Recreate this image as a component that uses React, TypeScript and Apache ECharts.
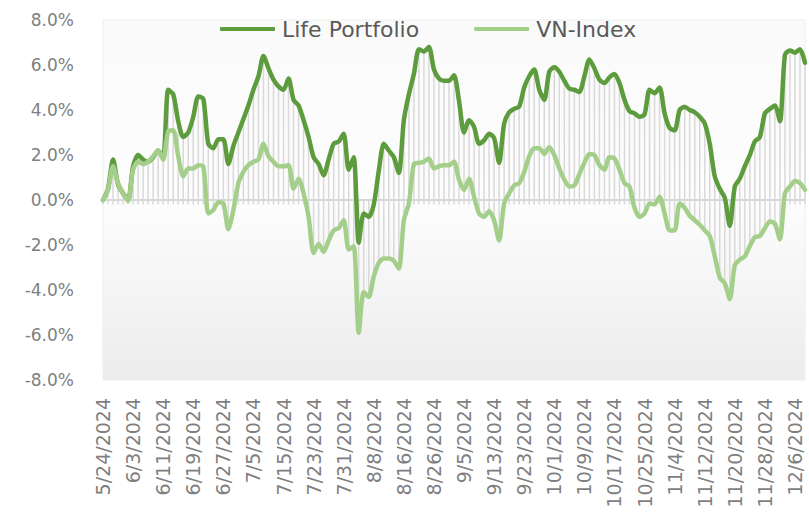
import React, { useEffect, useRef } from "react";
import * as echarts from "echarts";

const dates = [
  "5/24/2024","5/27/2024","5/28/2024","5/29/2024","5/30/2024","5/31/2024",
  "6/3/2024","6/4/2024","6/5/2024","6/6/2024","6/7/2024","6/10/2024","6/11/2024","6/12/2024","6/13/2024","6/14/2024","6/17/2024","6/18/2024","6/19/2024","6/20/2024","6/21/2024","6/24/2024","6/25/2024","6/26/2024","6/27/2024","6/28/2024",
  "7/1/2024","7/2/2024","7/3/2024","7/4/2024","7/5/2024","7/8/2024","7/9/2024","7/10/2024","7/11/2024","7/12/2024","7/15/2024","7/16/2024","7/17/2024","7/18/2024","7/19/2024","7/22/2024","7/23/2024","7/24/2024","7/25/2024","7/26/2024","7/29/2024","7/30/2024","7/31/2024",
  "8/1/2024","8/2/2024","8/5/2024","8/6/2024","8/7/2024","8/8/2024","8/9/2024","8/12/2024","8/13/2024","8/14/2024","8/15/2024","8/16/2024","8/19/2024","8/20/2024","8/21/2024","8/22/2024","8/23/2024","8/26/2024","8/27/2024","8/28/2024","8/29/2024","8/30/2024",
  "9/4/2024","9/5/2024","9/6/2024","9/9/2024","9/10/2024","9/11/2024","9/12/2024","9/13/2024","9/16/2024","9/17/2024","9/18/2024","9/19/2024","9/20/2024","9/23/2024","9/24/2024","9/25/2024","9/26/2024","9/27/2024","9/30/2024",
  "10/1/2024","10/2/2024","10/3/2024","10/4/2024","10/7/2024","10/8/2024","10/9/2024","10/10/2024","10/11/2024","10/14/2024","10/15/2024","10/16/2024","10/17/2024","10/18/2024","10/21/2024","10/22/2024","10/23/2024","10/24/2024","10/25/2024","10/28/2024","10/29/2024","10/30/2024","10/31/2024",
  "11/1/2024","11/4/2024","11/5/2024","11/6/2024","11/7/2024","11/8/2024","11/11/2024","11/12/2024","11/13/2024","11/14/2024","11/15/2024","11/18/2024","11/19/2024","11/20/2024","11/21/2024","11/22/2024","11/25/2024","11/26/2024","11/27/2024","11/28/2024","11/29/2024",
  "12/2/2024","12/3/2024","12/4/2024","12/5/2024","12/6/2024","12/9/2024","12/10/2024",
];

const lifePortfolio = [
  0.0, 0.5, 1.8, 0.7, 0.3, 0.0, 1.5, 2.0, 1.8, 1.7,
  1.9, 2.2, 1.9, 4.9, 4.7, 3.5, 2.8, 3.0, 3.7, 4.6,
  4.5, 2.5, 2.3, 2.7, 2.7, 1.6, 2.4, 3.0, 3.6, 4.2,
  4.9, 5.5, 6.4, 5.85, 5.35, 5.05, 4.9, 5.4, 4.45, 4.2,
  3.55, 2.8, 1.9, 1.6, 1.1, 1.8, 2.5, 2.6, 2.95, 1.35,
  1.9, -1.9, -0.6, -0.75, -0.2, 1.3, 2.5, 2.2, 1.9, 1.2,
  3.55, 4.7, 5.6, 6.7, 6.6, 6.8, 5.8, 5.4, 5.3, 5.3,
  5.55, 4.4, 3.0, 3.55, 3.25, 2.5, 2.65, 2.95, 2.75, 1.65,
  3.4, 3.9, 4.05, 4.15, 5.0, 5.5, 5.8, 4.9, 4.45, 5.7,
  5.9, 5.7, 5.3, 4.95, 4.9, 4.8, 5.5, 6.25, 5.85, 5.35,
  5.2, 5.45, 5.6, 5.2, 4.45, 3.95, 3.85, 3.7, 3.8, 4.9,
  4.75, 5.0, 3.85, 3.2, 3.1, 4.0, 4.15, 4.0, 3.9, 3.7,
  3.4, 2.5, 1.05, 0.5, 0.1, -1.15, 0.6, 0.95, 1.5, 2.0,
  2.6, 2.8, 3.85, 4.05, 4.2, 3.5, 6.45, 6.65, 6.55, 6.7,
  6.1,
];

const vnIndex = [
  0.0, 0.45, 1.5, 0.75, 0.3, -0.05, 1.35, 1.7, 1.6, 1.7,
  1.95, 2.2, 1.8, 3.05, 3.1, 1.95, 1.05, 1.4, 1.4, 1.55,
  1.5, -0.6, -0.45, -0.1, -0.15, -1.3, -0.45, 0.75, 1.25, 1.55,
  1.7, 1.8, 2.5, 1.95, 1.7, 1.5, 1.5, 1.55, 0.5, 0.95,
  0.3, -0.75, -2.35, -1.95, -2.3, -1.8, -1.35, -1.25, -0.9, -2.2,
  -2.05, -5.9, -4.1, -4.3, -3.4, -2.8, -2.6, -2.6, -2.7, -3.05,
  -0.9, -0.15, 1.6, 1.65, 1.7, 1.85, 1.4, 1.5, 1.55, 1.55,
  1.7, 0.9, 0.45, 0.95, 0.15, -0.6, -0.75, -0.5, -0.9, -1.8,
  -0.15, 0.3, 0.65, 0.75, 1.25, 1.95, 2.3, 2.3, 2.05, 2.35,
  2.0, 1.4, 0.9, 0.6, 0.65, 1.15, 1.65, 2.05, 2.0, 1.55,
  1.35, 1.9, 1.85, 1.35, 0.75, 0.6, -0.35, -0.75, -0.6, -0.15,
  -0.2, 0.15, -0.6, -1.35, -1.35, -0.15, -0.35, -0.7, -0.9, -1.1,
  -1.35, -1.6, -2.5, -3.45, -3.7, -4.4, -2.9, -2.65, -2.5, -2.05,
  -1.65, -1.6, -1.25, -0.95, -1.05, -1.75, 0.3, 0.6, 0.85, 0.75,
  0.45,
];

const seriesNames = ["Life Portfolio", "VN-Index"];
const yMin = -8;
const yMax = 8;
const yStep = 2;

const FONT = "DejaVu Sans";
const DARK = "#5c9c3d";
const LIGHT = "#a4cf8a";

export default function App() {
  const ref = useRef<HTMLDivElement>(null);

  useEffect(() => {
    if (!ref.current) return;
    const chart = echarts.init(ref.current, null, { renderer: "svg" });

    const dropData = dates.map((_, i) => {
      const a = lifePortfolio[i];
      const b = vnIndex[i];
      return [i, Math.min(a, b, -0.2), Math.max(a, b, 0)];
    });

    const splitColors: string[] = [];
    for (let v = yMin; v <= yMax; v += yStep) {
      splitColors.push(v === 0 ? "#d6d6d6" : "rgba(0,0,0,0)");
    }

    chart.setOption({
      animation: false,
      backgroundColor: "#ffffff",
      textStyle: { fontFamily: FONT },
      legend: {
        data: seriesNames,
        top: 18,
        left: 220,
        padding: 0,
        icon: "roundRect",
        itemWidth: 55,
        itemHeight: 4,
        itemGap: 55,
        textStyle: { fontSize: 22, color: "#595959", fontFamily: FONT, padding: [0, 0, 0, 2] },
      },
      grid: {
        left: 103,
        right: 4,
        top: 20,
        bottom: 132,
        show: true,
        borderColor: "#eeeeee",
        borderWidth: 1,
        backgroundColor: new echarts.graphic.LinearGradient(0, 0, 0, 1, [
          { offset: 0, color: "#fafafa" },
          { offset: 0.5, color: "#fdfdfd" },
          { offset: 1, color: "#ececec" },
        ]),
      },
      xAxis: {
        type: "category",
        data: dates,
        boundaryGap: false,
        axisLine: { show: false },
        axisTick: { show: false },
        splitLine: { show: false },
        axisLabel: {
          interval: 5,
          rotate: 90,
          margin: 18,
          fontSize: 19,
          color: "#7f7f7f",
          fontFamily: FONT,
        },
      },
      yAxis: {
        type: "value",
        min: yMin,
        max: yMax,
        interval: yStep,
        axisLine: { show: false },
        axisTick: { show: false },
        splitLine: { show: true, lineStyle: { color: splitColors, width: 2 } },
        axisLabel: {
          margin: 29,
          fontSize: 17,
          color: "#7f7f7f",
          fontFamily: FONT,
          formatter: (v: number) => `${v.toFixed(1)}%`,
        },
      },
      series: [
        {
          type: "custom",
          name: "drop",
          silent: true,
          z: 1,
          data: dropData,
          encode: { x: 0, y: [1, 2] },
          renderItem: (_params: any, api: any) => {
            const i = api.value(0);
            const p1 = api.coord([i, api.value(1)]);
            const p2 = api.coord([i, api.value(2)]);
            return {
              type: "line",
              shape: { x1: p1[0], y1: p1[1], x2: p2[0], y2: p2[1] },
              style: { stroke: "#d9d9d9", lineWidth: 1.5 },
            };
          },
        },
        {
          type: "line",
          name: seriesNames[0],
          data: lifePortfolio,
          smooth: 0.25,
          showSymbol: false,
          symbol: "none",
          z: 3,
          lineStyle: { color: DARK, width: 4.5, cap: "round", join: "round" },
          itemStyle: { color: DARK },
        },
        {
          type: "line",
          name: seriesNames[1],
          data: vnIndex,
          smooth: 0.25,
          showSymbol: false,
          symbol: "none",
          z: 3,
          lineStyle: { color: LIGHT, width: 4.5, cap: "round", join: "round" },
          itemStyle: { color: LIGHT },
        },
      ],
    });

    return () => chart.dispose();
  }, []);

  return (
    <div
      ref={ref}
      style={{ position: "fixed", left: 0, top: 0, width: 809, height: 512 }}
    />
  );
}
